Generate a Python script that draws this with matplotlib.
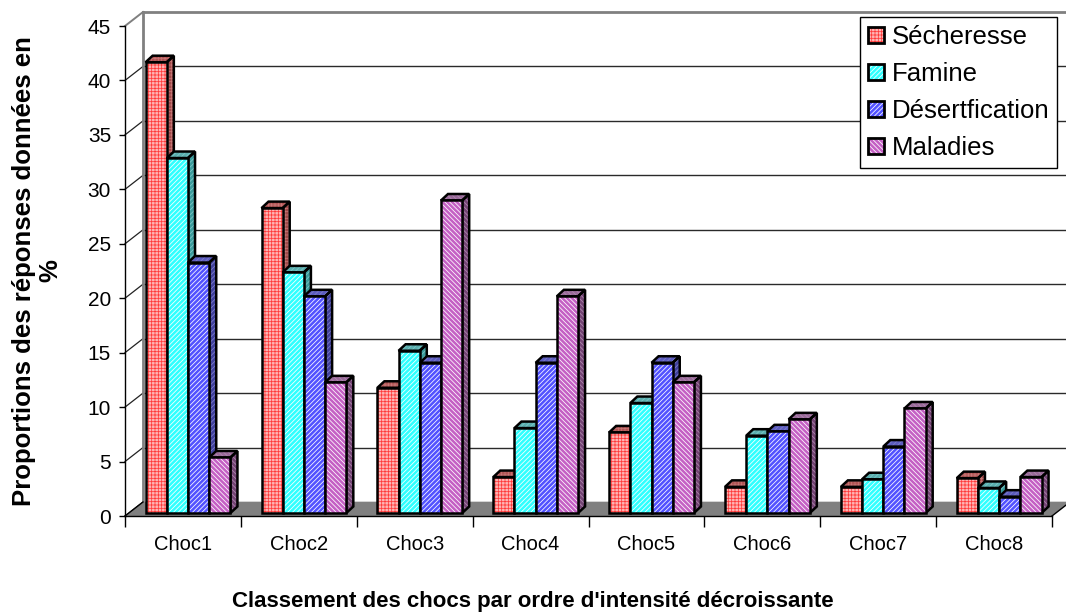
import matplotlib
matplotlib.use("Agg")
import matplotlib.pyplot as plt
from matplotlib.patches import Polygon, Patch
from matplotlib.legend_handler import HandlerTuple

# ---------------- data ----------------
categories = ["Choc1", "Choc2", "Choc3", "Choc4", "Choc5", "Choc6", "Choc7", "Choc8"]
secheresse = [41.4, 28.0, 11.5, 3.3, 7.4, 2.4, 2.4, 3.2]
famine = [32.6, 22.1, 14.9, 7.8, 10.1, 7.1, 3.1, 2.3]
desertification = [23.0, 19.9, 13.8, 13.8, 13.8, 7.5, 6.1, 1.5]
maladies = [5.1, 12.0, 28.7, 19.9, 12.0, 8.6, 9.6, 3.3]
series_names = ["Sécheresse", "Famine", "Désertfication", "Maladies"]
yticks = [0, 5, 10, 15, 20, 25, 30, 35, 40, 45]
ylabel = "Proportions des réponses données en\n%"
xlabel = "Classement des chocs par ordre d'intensité décroissante"

# ---------------- style ----------------
plt.rcParams['font.family'] = ['Liberation Sans', 'DejaVu Sans']
plt.rcParams['hatch.linewidth'] = 0.55

styles = [
    dict(face="#FFB4B4", hatch_c="#FF3A3A", side="#A04848", side_h="#C87878", top="#B05454", hatch="+++++"),
    dict(face="#30FFFF", hatch_c="#FFFFFF", side="#3A9C9C", side_h="#80C8C8", top="#5AAEAE", hatch="///////"),
    dict(face="#5252FF", hatch_c="#FFFFFF", side="#40409C", side_h="#8080C8", top="#5C5CC0", hatch="///////"),
    dict(face="#C460C4", hatch_c="#FFFFFF", side="#744474", side_h="#B08CB0", top="#9A6A9A", hatch="\\\\\\\\\\\\\\"),
]

W, H = 1066, 614
fig = plt.figure(figsize=(W / 100, H / 100), dpi=100)
ax_left, ax_right, ax_top, ax_bottom = 125, 1052, 26, 516
ax = fig.add_axes([ax_left / W, 1 - ax_bottom / H, (ax_right - ax_left) / W, (ax_bottom - ax_top) / H])
ncat = len(categories)
ax.set_xlim(0, ncat)
ax.set_ylim(0, 45)

kx = (ax_right - ax_left) / ncat          # px per x unit
ky = (ax_bottom - ax_top) / 45.0          # px per y unit
bx, by = 18 / kx, 14 / ky                 # back wall offset
dx, dy = 7 / kx, 6.5 / ky                 # bar depth
y0 = 3 / ky                               # bar front bottom above floor front edge

# back wall gridlines
for v in yticks:
    col = "#808080" if v == 45 else "#2a2a2a"
    lw = 2.0 if v == 45 else 1.0
    ax.plot([bx, ncat + bx], [v + by, v + by], color=col, lw=lw, clip_on=False, zorder=1)
    ax.plot([0, bx], [v, v + by], color=col if v == 45 else "#222222", lw=1.4 if v == 45 else 0.9,
            clip_on=False, zorder=1)
ax.plot([bx, bx], [by, 45 + by], color="#808080", lw=2.0, clip_on=False, zorder=1)

# floor
floor = Polygon([(0, 0), (ncat, 0), (ncat + bx, by), (bx, by)], closed=True,
                facecolor="#808080", edgecolor="none", clip_on=False, zorder=2)
ax.add_patch(floor)
ax.plot([0, bx], [0, by], color="black", lw=1.0, clip_on=False, zorder=2)
ax.plot([ncat, ncat + bx], [0, by], color="black", lw=1.0, clip_on=False, zorder=2)

all_series = [secheresse, famine, desertification, maladies]
bw = 0.183
start = 0.178
edge_lw = 1.8
z = 3
for i in range(ncat):
    for j, vals in enumerate(all_series):
        st = styles[j]
        x0 = i + start + j * bw
        x1 = x0 + bw
        h = vals[i]
        y1 = y0 + h
        side = [(x1, y0), (x1 + dx, y0 + dy), (x1 + dx, y1 + dy), (x1, y1)]
        top = [(x0, y1), (x1, y1), (x1 + dx, y1 + dy), (x0 + dx, y1 + dy)]
        for poly, fc, hc in [(side, st["side"], st["side_h"]), (top, st["top"], st["side_h"])]:
            ax.add_patch(Polygon(poly, closed=True, facecolor=fc, edgecolor=hc, hatch=st["hatch"],
                                 lw=0, clip_on=False, zorder=z))
            ax.add_patch(Polygon(poly, closed=True, fill=False, edgecolor="black", lw=edge_lw,
                                 joinstyle="miter", clip_on=False, zorder=z + 0.1))
        ax.bar(x0, h, width=bw, bottom=y0, align="edge", color=st["face"], edgecolor=st["hatch_c"],
               hatch=st["hatch"], lw=0, zorder=z + 0.2, clip_on=False)
        ax.bar(x0, h, width=bw, bottom=y0, align="edge", fill=False, edgecolor="black",
               lw=edge_lw, zorder=z + 0.3, clip_on=False)
        z += 1

# axes styling
for s in ["top", "right"]:
    ax.spines[s].set_visible(False)
ax.spines["left"].set_color("black")
ax.spines["bottom"].set_color("black")
ax.spines["left"].set_linewidth(1.0)
ax.spines["bottom"].set_linewidth(1.0)
ax.spines["left"].set_zorder(200)
ax.spines["bottom"].set_zorder(200)
ax.set_yticks(yticks)
ax.set_yticklabels([str(v) for v in yticks], fontsize=15)
ax.tick_params(axis="y", direction="out", length=4, width=1, pad=6, color="black")
ax.set_xticks(range(ncat + 1))
ax.set_xticklabels([""] * (ncat + 1))
ax.set_xticks([k + 0.5 for k in range(ncat)], minor=True)
ax.set_xticklabels(categories, minor=True, fontsize=14.5)
ax.tick_params(axis="x", which="major", direction="out", length=8, width=1, color="black")
ax.tick_params(axis="x", which="minor", length=0, pad=14)
ax.patch.set_alpha(0)

# legend
handles = []
for st in styles:
    p1 = Patch(facecolor=st["face"], edgecolor=st["hatch_c"], hatch=st["hatch"], lw=0)
    p2 = Patch(fill=False, edgecolor="black", lw=2.0)
    handles.append((p1, p2))
leg = fig.legend(handles, series_names, handler_map={tuple: HandlerTuple(ndivide=1, pad=0)},
                 loc="upper right", bbox_to_anchor=(1057 / W, 1 - 17 / H), borderaxespad=0,
                 fontsize=18.5, frameon=True, fancybox=False, shadow=False, labelspacing=0.51,
                 handlelength=0.62, handleheight=0.58, handletextpad=0.3, borderpad=0.3,
                 edgecolor="black", framealpha=1)
leg.get_frame().set_linewidth(1.0)
leg.set_zorder(300)

fig.text(37 / W, 0.5 * (1 - ax_top / H + 1 - ax_bottom / H), ylabel, rotation=90, ha="center",
         va="center", fontsize=18.5, fontweight="bold", multialignment="center", linespacing=1.15)
fig.text(533 / W, 1 - 601 / H, xlabel, ha="center", va="center", fontsize=16, fontweight="bold")

fig.savefig("out.png", dpi=100)
